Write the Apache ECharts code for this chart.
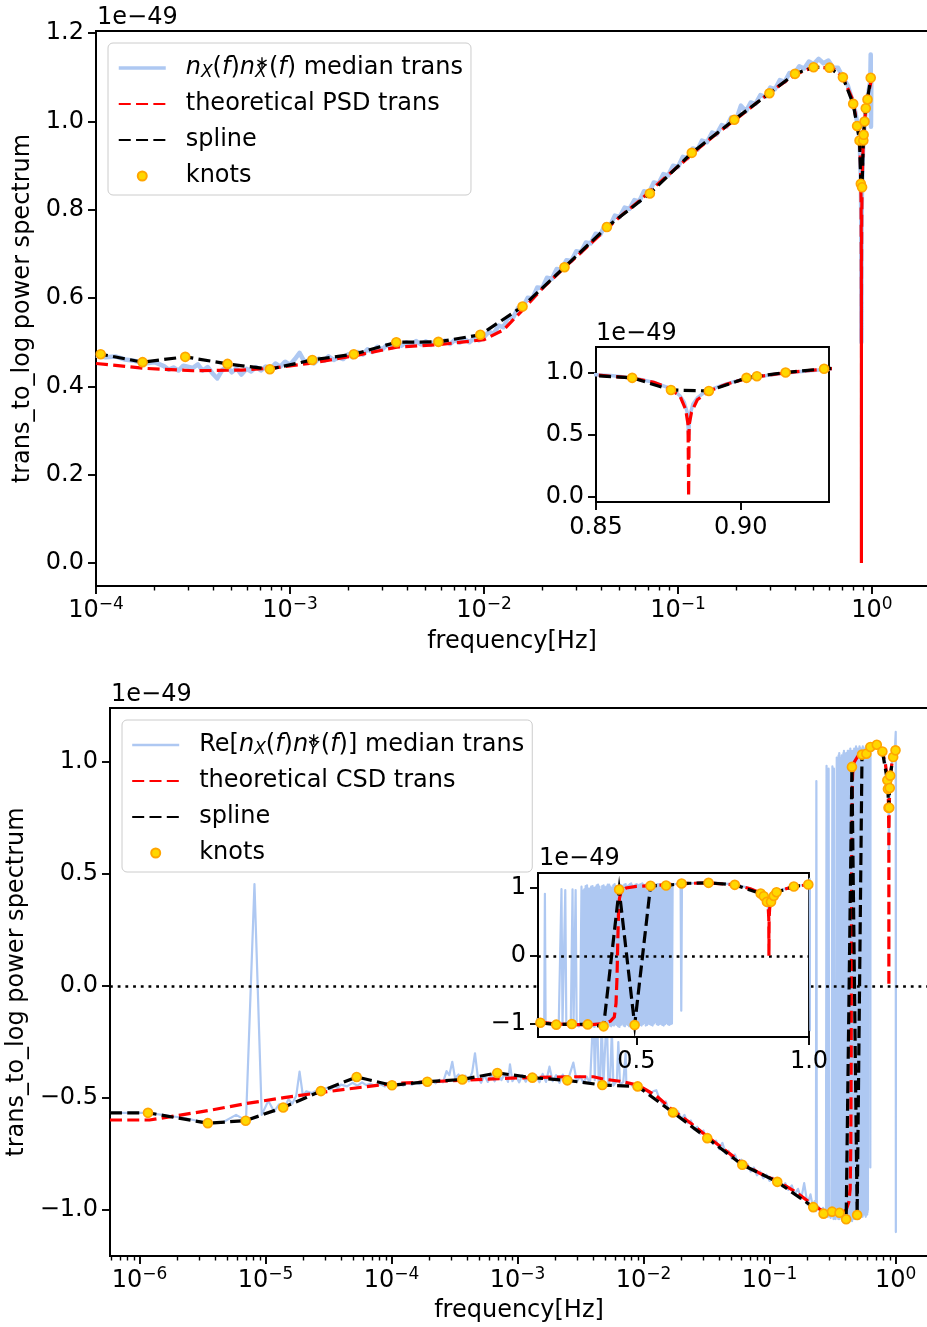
<!DOCTYPE html>
<html>
<head>
<meta charset="utf-8">
<script src="https://cdn.jsdelivr.net/npm/echarts@6/dist/echarts.min.js"></script>
<style>
html,body{margin:0;padding:0;background:#ffffff;}
#chart{width:927px;height:1327px;}
</style>
</head>
<body>
<div id="chart"></div>
<script>
// Values are in units of 1e-49 (shown as the offset text above each y axis).

// ---------- upper panel: auto spectrum ----------
const psdMedian = [
  [1.00e-4,0.470],[1.12e-4,0.466],[1.26e-4,0.468],[1.41e-4,0.461],[1.58e-4,0.458],[1.78e-4,0.452],[2.00e-4,0.455],[2.24e-4,0.446],
  [2.37e-4,0.438],[2.51e-4,0.443],[2.66e-4,0.436],[2.82e-4,0.447],[3.16e-4,0.442],[3.35e-4,0.450],[3.55e-4,0.436],[3.76e-4,0.444],
  [3.98e-4,0.430],[4.22e-4,0.418],[4.47e-4,0.437],[4.73e-4,0.445],[5.01e-4,0.432],[5.31e-4,0.441],[5.62e-4,0.427],[5.96e-4,0.440],
  [6.31e-4,0.434],[6.68e-4,0.444],[7.08e-4,0.436],[7.50e-4,0.445],[7.94e-4,0.440],[8.41e-4,0.452],[8.91e-4,0.445],[9.44e-4,0.456],
  [1.00e-3,0.449],[1.06e-3,0.462],[1.12e-3,0.476],[1.19e-3,0.455],[1.26e-3,0.460],[1.33e-3,0.452],[1.41e-3,0.463],[1.50e-3,0.458],
  [1.58e-3,0.468],[1.68e-3,0.460],[1.78e-3,0.466],[1.88e-3,0.462],[2.00e-3,0.473],[2.11e-3,0.466],[2.24e-3,0.478],[2.37e-3,0.472],
  [2.51e-3,0.484],[2.66e-3,0.478],[2.82e-3,0.490],[2.99e-3,0.484],[3.16e-3,0.494],[3.35e-3,0.488],[3.55e-3,0.498],[3.76e-3,0.492],
  [3.98e-3,0.500],[4.22e-3,0.494],[4.47e-3,0.503],[4.73e-3,0.495],[5.01e-3,0.502],[5.31e-3,0.494],[5.62e-3,0.503],[5.96e-3,0.497],
  [6.31e-3,0.504],[6.68e-3,0.496],[7.08e-3,0.505],[7.50e-3,0.499],[7.94e-3,0.507],[8.41e-3,0.500],[8.91e-3,0.509],[9.44e-3,0.504],
  [1.00e-2,0.512],[1.06e-2,0.524],[1.12e-2,0.519],[1.19e-2,0.538],[1.26e-2,0.534],[1.33e-2,0.556],[1.41e-2,0.555],[1.50e-2,0.578],
  [1.58e-2,0.578],[1.68e-2,0.601],[1.78e-2,0.600],[1.88e-2,0.624],[2.00e-2,0.623],[2.11e-2,0.646],[2.24e-2,0.644],[2.37e-2,0.666],
  [2.51e-2,0.664],[2.66e-2,0.686],[2.82e-2,0.684],[2.99e-2,0.706],[3.16e-2,0.704],[3.35e-2,0.726],[3.55e-2,0.724],[3.76e-2,0.746],
  [3.98e-2,0.744],[4.22e-2,0.767],[4.47e-2,0.764],[4.73e-2,0.787],[5.01e-2,0.784],[5.31e-2,0.805],[5.62e-2,0.802],[5.96e-2,0.822],
  [6.31e-2,0.819],[6.68e-2,0.842],[7.08e-2,0.839],[7.50e-2,0.862],[7.94e-2,0.859],[8.41e-2,0.881],[8.91e-2,0.878],[9.44e-2,0.900],
  [1.00e-1,0.897],[1.06e-1,0.920],[1.12e-1,0.917],[1.19e-1,0.939],[1.26e-1,0.936],[1.33e-1,0.957],[1.41e-1,0.953],[1.50e-1,0.975],
  [1.58e-1,0.971],[1.68e-1,0.992],[1.78e-1,0.988],[1.88e-1,1.009],[2.00e-1,1.005],[2.11e-1,1.036],[2.24e-1,1.023],[2.37e-1,1.043],
  [2.51e-1,1.040],[2.66e-1,1.060],[2.82e-1,1.056],[2.99e-1,1.077],[3.16e-1,1.073],[3.35e-1,1.094],[3.55e-1,1.090],[3.76e-1,1.110],
  [3.98e-1,1.108],[4.22e-1,1.125],[4.47e-1,1.120],[4.73e-1,1.136],[5.01e-1,1.130],[5.31e-1,1.142],[5.62e-1,1.132],[5.96e-1,1.138],
  [6.31e-1,1.122],[6.68e-1,1.122],[7.08e-1,1.100],[7.50e-1,1.082],[7.94e-1,1.046],[8.20e-1,1.022],[8.41e-1,0.995],
  [0.850,0.982],[0.855,0.975],[0.860,0.963],[0.865,0.946],[0.870,0.920],[0.874,0.886],[0.877,0.852],[0.879,0.812],
  [0.8805,0.760],[0.8815,0.680],[0.882,0.500],[0.8825,0.660],[0.8835,0.745],[0.885,0.795],[0.887,0.832],[0.890,0.866],
  [0.894,0.900],[0.898,0.928],[0.902,0.950],[0.906,0.966],[0.910,0.979],[0.915,0.994],[0.920,1.006],[0.925,1.017],
  [0.930,1.027],[0.940,1.044],[0.950,1.058],[0.960,1.068],[0.970,1.080],[0.980,1.092],[0.985,1.152],[0.988,0.988],
  [0.992,1.100],[0.996,1.104],[1.000,1.106]
];
const psdTheory = [
  [1.00e-4,0.452],[1.78e-4,0.441],[3.16e-4,0.4355],[5.62e-4,0.437],[7.94e-4,0.441],[1.26e-3,0.452],[2.24e-3,0.471],[3.55e-3,0.489],
  [5.96e-3,0.495],[1.00e-2,0.506],[1.26e-2,0.528],[1.58e-2,0.573],[2.00e-2,0.622],[2.51e-2,0.663],[3.16e-2,0.703],[3.98e-2,0.744],
  [5.01e-2,0.784],[6.31e-2,0.820],[7.94e-2,0.860],[1.00e-1,0.898],[1.26e-1,0.937],[1.58e-1,0.972],[2.00e-1,1.006],[2.51e-1,1.040],
  [3.16e-1,1.074],[3.98e-1,1.105],[5.01e-1,1.124],[6.31e-1,1.120],[7.08e-1,1.100],[7.94e-1,1.050],[0.850,0.980],[0.8625,0.955],
  [0.870,0.920],[0.875,0.875],[0.879,0.810],[0.881,0.700],[0.8818,0.580],[0.882,0.000],[0.8822,0.580],[0.883,0.680],
  [0.885,0.780],[0.889,0.850],[0.895,0.905],[0.902,0.952],[0.910,0.980],[0.9155,0.998],[0.930,1.030],[0.960,1.065],[1.000,1.100]
];
const psdKnots = [
  [1.057e-4,0.473],[1.738e-4,0.455],[2.884e-4,0.467],[4.764e-4,0.451],[7.87e-4,0.439],[1.303e-3,0.460],[2.133e-3,0.473],
  [3.532e-3,0.500],[5.82e-3,0.501],[9.57e-3,0.517],[1.58e-2,0.581],[2.60e-2,0.670],[4.30e-2,0.761],[7.16e-2,0.837],
  [0.1178,0.929],[0.195,1.004],[0.296,1.064],[0.401,1.108],[0.500,1.123],[0.604,1.122],[0.708,1.100],[0.800,1.040],
  [0.838,0.990],[0.8625,0.957],[0.8759,0.859],[0.889,0.851],[0.902,0.957],[0.9056,0.970],[0.9155,1.000],[0.9288,1.030],
  [0.948,1.050],[0.985,1.099]
];
const psdSpline = [[1.0e-4,0.475]].concat(psdKnots);

// ---------- lower panel: cross spectrum ----------
const csdMedian = [
  [5.82e-7,-0.566],[1.17e-6,-0.566],[2.33e-6,-0.590],[3.50e-6,-0.613],[4.66e-6,-0.606],[5.83e-6,-0.575],[6.99e-6,-0.600],
  [8.16e-6,0.455],[9.32e-6,-0.575],[1.05e-5,-0.512],[1.17e-5,-0.560],[1.28e-5,-0.528],[1.40e-5,-0.545],[1.52e-5,-0.505],
  [1.63e-5,-0.525],[1.75e-5,-0.490],[1.86e-5,-0.382],[1.98e-5,-0.492],[2.10e-5,-0.470],[2.33e-5,-0.478],[2.56e-5,-0.465],
  [2.80e-5,-0.470],[3.03e-5,-0.455],[3.26e-5,-0.462],[3.50e-5,-0.448],[3.73e-5,-0.455],[3.96e-5,-0.440],[4.43e-5,-0.448],
  [4.89e-5,-0.432],[5.36e-5,-0.445],[5.83e-5,-0.430],[6.29e-5,-0.442],[6.76e-5,-0.436],[7.46e-5,-0.446],[8.16e-5,-0.438],
  [8.86e-5,-0.448],[9.56e-5,-0.440],[1.05e-4,-0.447],[1.14e-4,-0.436],[1.24e-4,-0.445],[1.33e-4,-0.432],[1.45e-4,-0.441],
  [1.56e-4,-0.430],[1.68e-4,-0.438],[1.82e-4,-0.426],[1.96e-4,-0.436],[2.10e-4,-0.424],[2.24e-4,-0.434],[2.40e-4,-0.418],
  [2.56e-4,-0.430],[2.73e-4,-0.380],[2.87e-4,-0.398],[3.03e-4,-0.338],[3.19e-4,-0.412],[3.40e-4,-0.395],[3.62e-4,-0.430],
  [3.85e-4,-0.400],[4.10e-4,-0.425],[4.36e-4,-0.385],[4.59e-4,-0.300],[4.83e-4,-0.405],[5.13e-4,-0.432],[5.46e-4,-0.398],
  [5.80e-4,-0.428],[6.17e-4,-0.395],[6.57e-4,-0.425],[6.99e-4,-0.388],[7.43e-4,-0.420],[7.90e-4,-0.392],[8.39e-4,-0.428],
  [8.70e-4,-0.350],[9.10e-4,-0.425],[9.66e-4,-0.400],[1.03e-3,-0.430],[1.09e-3,-0.398],[1.16e-3,-0.427],[1.24e-3,-0.395],
  [1.32e-3,-0.425],[1.40e-3,-0.398],[1.49e-3,-0.430],[1.58e-3,-0.392],[1.68e-3,-0.428],[1.79e-3,-0.360],[1.90e-3,-0.425],
  [2.02e-3,-0.398],[2.15e-3,-0.432],[2.28e-3,-0.395],[2.43e-3,-0.430],[2.58e-3,-0.398],[2.77e-3,-0.342],[2.95e-3,-0.428],
  [3.13e-3,-0.402],[3.33e-3,-0.432],[3.54e-3,-0.405],[3.76e-3,-0.435],[4.00e-3,-0.100],[4.10e-3,-0.420],[4.25e-3,-0.050],
  [4.40e-3,-0.428],[4.52e-3,-0.442],[4.65e-3,-0.150],[4.80e-3,-0.435],[5.10e-3,-0.120],[5.25e-3,-0.440],[5.42e-3,-0.420],
  [5.60e-3,-0.200],[5.76e-3,-0.445],[6.13e-3,-0.422],[6.30e-3,-0.250],[6.50e-3,-0.440],[6.90e-3,-0.428],[7.20e-3,-0.300],
  [7.30e-3,-0.446],[7.80e-3,-0.432],[8.30e-3,-0.452],[8.97e-3,-0.445],[9.50e-3,-0.462],
  [1.00e-2,-0.470],[1.06e-2,-0.462],[1.12e-2,-0.488],[1.19e-2,-0.470],[1.26e-2,-0.465],[1.33e-2,-0.500],[1.41e-2,-0.525],
  [1.50e-2,-0.515],[1.58e-2,-0.555],[1.68e-2,-0.548],[1.78e-2,-0.572],[1.88e-2,-0.560],[2.00e-2,-0.595],[2.11e-2,-0.575],
  [2.24e-2,-0.612],[2.37e-2,-0.600],[2.51e-2,-0.640],[2.66e-2,-0.628],[2.82e-2,-0.660],[2.99e-2,-0.645],[3.16e-2,-0.686],
  [3.35e-2,-0.672],[3.55e-2,-0.705],[3.76e-2,-0.690],[3.98e-2,-0.728],[4.22e-2,-0.700],[4.47e-2,-0.748],[4.73e-2,-0.735],
  [5.01e-2,-0.770],[5.31e-2,-0.752],[5.62e-2,-0.792],[5.96e-2,-0.775],[6.31e-2,-0.812],[6.68e-2,-0.795],[7.08e-2,-0.828],
  [7.50e-2,-0.810],[7.94e-2,-0.845],[8.41e-2,-0.828],[8.91e-2,-0.858],[9.44e-2,-0.842],[1.00e-1,-0.870],[1.06e-1,-0.855],
  [1.12e-1,-0.882],[1.19e-1,-0.865],[1.26e-1,-0.895],[1.33e-1,-0.880],[1.41e-1,-0.910],[1.50e-1,-0.890],[1.58e-1,-0.930],
  [1.68e-1,-0.905],[1.78e-1,-0.950],[1.88e-1,-0.880],[2.00e-1,-0.975],[2.11e-1,-0.930],[2.22e-1,-0.995],[2.28e-1,-0.960],
  [2.33e-1,-1.005],[2.35e-1,0.915],[2.37e-1,-1.000],[2.45e-1,-0.985],[2.55e-1,-1.015],[2.65e-1,-0.990],[2.75e-1,-1.025],
  [2.80e-1,-1.000],[2.83e-1,0.983],[2.86e-1,-1.010],[2.90e-1,-1.030],[2.94e-1,0.970],[2.97e-1,-1.015],[3.05e-1,-1.035],
  [3.10e-1,-1.005],[3.15e-1,0.980],[3.18e-1,-1.020],[3.22e-1,-1.040],[3.24e-1,0.970],[3.27e-1,-1.020],[3.33e-1,-1.040],
  [3.37e-1,-1.010],
  [0.341,1.02],[0.343,-1.03],[0.345,0.96],[0.347,-1.01],[0.349,0.98],[0.351,-1.04],[0.353,1.03],[0.355,-1.01],
  [0.357,1.04],[0.359,-1.04],[0.361,0.99],[0.363,-1.02],[0.365,0.99],[0.367,-1.03],[0.369,1.02],[0.371,-1.02],
  [0.373,1.03],[0.375,-1.04],[0.377,1.00],[0.379,-1.05],[0.381,1.01],[0.383,-1.02],[0.385,1.04],[0.387,-1.00],
  [0.389,1.05],[0.391,-1.03],[0.393,1.02],[0.395,-1.04],[0.397,0.97],[0.399,-1.01],[0.401,1.03],[0.403,-1.02],
  [0.405,1.04],[0.407,-1.03],[0.409,1.01],[0.411,-1.05],[0.413,1.02],[0.415,-1.02],[0.417,1.05],[0.419,-1.01],
  [0.421,1.05],[0.423,-1.03],[0.425,1.02],[0.427,-1.04],[0.429,1.00],[0.431,-1.02],[0.433,1.04],[0.435,-1.03],
  [0.437,1.06],[0.439,-1.01],[0.441,1.03],[0.443,-1.02],[0.445,1.03],[0.447,-1.04],[0.449,1.02],[0.451,-1.05],
  [0.453,1.05],[0.455,-1.02],[0.457,1.04],[0.459,-1.00],[0.461,1.02],[0.463,-1.03],[0.465,1.05],[0.467,-1.04],
  [0.469,1.06],[0.471,-1.01],[0.473,1.03],[0.475,-1.02],[0.477,1.04],[0.479,-1.04],[0.481,1.06],[0.483,-1.03],
  [0.485,1.07],[0.487,-1.00],[0.489,1.04],[0.491,-1.01],[0.493,1.03],[0.495,-1.03],[0.497,1.05],[0.499,-1.04],
  [0.501,1.06],[0.503,-1.02],[0.505,1.04],[0.507,-1.00],[0.509,1.05],[0.511,-1.02],[0.513,1.06],[0.515,-1.03],
  [0.517,1.07],[0.519,-1.01],[0.521,1.05],[0.523,-0.99],[0.525,1.04],[0.527,-1.03],[0.529,1.06],[0.531,-1.02],
  [0.533,1.06],[0.535,-1.00],[0.537,1.05],[0.539,-1.01],[0.541,1.05],[0.543,-1.02],[0.545,1.06],[0.547,-1.03],
  [0.549,1.07],[0.551,-1.00],[0.553,1.05],[0.555,-0.98],[0.557,1.05],[0.559,-1.01],[0.561,1.06],[0.563,-1.02],
  [0.565,1.06],[0.567,-1.01],[0.569,1.05],[0.571,-1.00],[0.573,1.05],[0.575,-1.02],[0.577,1.06],[0.579,-1.03],
  [0.581,1.07],[0.583,-1.01],[0.585,1.05],[0.587,-0.99],[0.589,1.06],[0.591,-1.01],[0.593,1.05],[0.595,-1.02],
  [0.597,1.05],[0.599,-1.01],[0.601,1.06],[0.603,-1.00],[0.605,1.06],[0.609,1.05],
  [0.620,1.06],[0.628,1.07],[0.630,-0.81],[0.632,1.06],[0.645,1.075],[0.660,1.07],[0.680,1.082],[0.700,1.078],
  [0.720,1.085],[0.750,1.07],[0.785,1.05],[0.820,1.01],[0.850,0.955],[0.860,0.925],[0.870,0.88],[0.876,0.83],
  [0.880,0.76],[0.8825,0.66],[0.884,0.58],[0.8855,0.66],[0.888,0.76],[0.892,0.82],[0.898,0.88],[0.906,0.935],
  [0.920,0.975],[0.940,1.005],[0.956,1.022],[0.970,1.035],[0.985,1.045],[1.000,1.052],[1.002,1.134],[1.004,-1.098],
  [1.006,1.06]
];
const csdTheory = [
  [5.82e-7,-0.598],[1.2e-6,-0.598],[3.5e-6,-0.556],[7.1e-6,-0.524],[1.4e-5,-0.498],[2.7e-5,-0.476],[5.2e-5,-0.455],
  [1.02e-4,-0.435],[3.9e-4,-0.420],[1.0e-3,-0.410],[2.5e-3,-0.405],[4.0e-3,-0.405],[4.76e-3,-0.415],[6.5e-3,-0.425],
  [8.97e-3,-0.442],[1.26e-2,-0.490],[1.71e-2,-0.555],[2.4e-2,-0.615],[3.2e-2,-0.672],[4.5e-2,-0.735],[6.07e-2,-0.792],
  [8.5e-2,-0.838],[0.115,-0.870],[0.160,-0.918],[0.222,-0.978],[0.270,-1.008],[0.320,-1.015],[0.370,-1.015],[0.405,-1.000],
  [0.425,-0.965],[0.436,-0.905],[0.441,-0.700],[0.444,-0.300],[0.446,0.200],[0.448,0.600],[0.451,0.850],[0.456,0.950],
  [0.470,1.000],[0.500,1.025],[0.541,1.035],[0.600,1.055],[0.660,1.070],[0.709,1.075],[0.785,1.047],[0.830,0.990],
  [0.860,0.925],[0.872,0.870],[0.878,0.800],[0.882,0.700],[0.8835,0.550],[0.884,0.000],[0.8845,0.550],[0.886,0.700],
  [0.890,0.800],[0.898,0.884],[0.906,0.935],[0.930,0.985],[0.956,1.020],[1.000,1.052]
];
const csdKnots = [
  [1.166e-6,-0.566],[3.48e-6,-0.612],[6.95e-6,-0.601],[1.38e-5,-0.542],[2.75e-5,-0.469],[5.28e-5,-0.406],[1.007e-4,-0.443],
  [1.92e-4,-0.427],[3.64e-4,-0.417],[6.9e-4,-0.388],[1.31e-3,-0.409],[2.48e-3,-0.421],[4.70e-3,-0.442],[8.97e-3,-0.448],
  [1.71e-2,-0.564],[3.20e-2,-0.679],[6.07e-2,-0.798],[0.115,-0.874],[0.222,-0.987],[0.268,-1.016],[0.313,-1.007],
  [0.359,-1.012],[0.405,-1.041],[0.450,0.978],[0.495,-1.022],[0.541,1.033],[0.586,1.037],[0.631,1.067],[0.709,1.077],
  [0.785,1.047],[0.860,0.919],[0.869,0.880],[0.878,0.796],[0.890,0.796],[0.898,0.884],[0.906,0.939],[0.956,1.022],[0.998,1.052]
];
const csdSpline = [[5.82e-7,-0.566]].concat(csdKnots);

// ---------- ticks ----------
const psdFreqTicks = [1e-4, 1e-3, 1e-2, 1e-1, 1];
const csdFreqTicks = [1e-6, 1e-5, 1e-4, 1e-3, 1e-2, 1e-1, 1];
const psdValueTicks = [0, 0.2, 0.4, 0.6, 0.8, 1.0, 1.2];
const csdValueTicks = [-1.0, -0.5, 0, 0.5, 1.0];
const psdZoomFreqTicks = [0.85, 0.90];
const psdZoomValueTicks = [0, 0.5, 1.0];
const csdZoomFreqTicks = [0.5, 1.0];
const csdZoomValueTicks = [-1, 0, 1];
const MINOR_MANTISSAS = [2, 3, 4, 5, 6, 7, 8, 9];

const FONT = 'DejaVu Sans';
const FS = 24;
const BLACK = '#000000';
const MEDIAN_BLUE = '#aec8f2';
const THEORY_RED = '#ff0000';
const KNOT_FILL = '#ffd700';
const KNOT_EDGE = '#ffa500';
const DASH = [12, 5.3];

function minorTicks(lo, hi) {
  const out = [];
  for (let e = -7; e <= 0; e++) {
    for (const m of MINOR_MANTISSAS) {
      const v = m * Math.pow(10, e);
      if (v > lo && v < hi) out.push(v);
    }
  }
  return out;
}
function fmtFixed(d) {
  return v => (v < -1e-9 ? '\u2212' : '') + Math.abs(v).toFixed(d);
}
function fmtInt(v) {
  return (v < -1e-9 ? '\u2212' : '') + Math.round(Math.abs(v));
}
function fmtPow(v) {
  const e = Math.round(Math.log10(v));
  return '{b|10}{s|' + (e < 0 ? '\u2212' + (-e) : String(e)) + '}';
}
const powRich = {
  b: { fontFamily: FONT, fontSize: FS, lineHeight: 30, color: BLACK },
  s: { fontFamily: FONT, fontSize: 17, lineHeight: 12, verticalAlign: 'top', color: BLACK }
};
const legendRich = {
  n: { fontFamily: FONT, fontSize: FS, lineHeight: 26, color: BLACK },
  i: { fontFamily: FONT, fontSize: FS, lineHeight: 26, fontStyle: 'italic', color: BLACK },
  sub: { fontFamily: FONT, fontSize: 17, lineHeight: 8, fontStyle: 'italic', verticalAlign: 'bottom', color: BLACK },
  sup: { fontFamily: FONT, fontSize: 17, lineHeight: 2, verticalAlign: 'top', color: BLACK, padding: [0, 0, 0, -12] }
};
const legendText = {
  'PSD median trans': '{i|n}{sub|X}{n|(}{i|f}{n|)}{i|n}{sub|X}{sup|\u2217}{n|(}{i|f}{n|) median trans}',
  'CSD median trans': '{n|Re[}{i|n}{sub|X}{n|(}{i|f}{n|)}{i|n}{sub|Y}{sup|\u2217}{n|(}{i|f}{n|)] median trans}'
};

const PSD_XMIN = 1e-4, PSD_XMAX = 1.944;
const CSD_XMIN = 5.824e-7, CSD_XMAX = 1.807;

const labelStyle = { color: BLACK, fontFamily: FONT, fontSize: FS };
const spine = { color: BLACK, width: 1.9 };

function logXAxis(gridIndex, min, max, ticks, nameGap) {
  return {
    type: 'log', logBase: 10, gridIndex, min, max,
    axisLine: { show: true, onZero: false, lineStyle: spine },
    axisTick: { show: true, customValues: ticks, length: 8, lineStyle: spine },
    axisLabel: Object.assign({ show: true, customValues: ticks, formatter: fmtPow, margin: 10, rich: powRich }, labelStyle),
    splitLine: { show: false }, minorTick: { show: false },
    name: 'frequency[Hz]', nameLocation: 'middle', nameGap, nameTextStyle: labelStyle
  };
}
function minorXAxis(gridIndex, min, max) {
  return {
    type: 'log', logBase: 10, gridIndex, min, max,
    axisLine: { show: false }, axisLabel: { show: false }, splitLine: { show: false },
    axisTick: { show: true, customValues: minorTicks(min, max), length: 4.5, lineStyle: { color: BLACK, width: 1.4 } }
  };
}
function linXAxis(gridIndex, min, max, ticks, fmt, z, margin) {
  return {
    type: 'value', gridIndex, min, max, z,
    axisLine: { show: true, onZero: false, lineStyle: spine },
    axisTick: { show: true, customValues: ticks, length: 8, lineStyle: spine },
    axisLabel: Object.assign({ show: true, customValues: ticks, formatter: fmt, margin }, labelStyle),
    splitLine: { show: false }
  };
}
function valueYAxis(gridIndex, min, max, ticks, fmt, z, title, gap) {
  const ax = {
    type: 'value', gridIndex, min, max, z,
    axisLine: { show: true, onZero: false, lineStyle: spine },
    axisTick: { show: true, customValues: ticks, length: 8, lineStyle: spine },
    axisLabel: Object.assign({ show: true, customValues: ticks, formatter: fmt, margin: 12 }, labelStyle),
    splitLine: { show: false }
  };
  if (title) {
    Object.assign(ax, { name: title, nameLocation: 'middle', nameRotate: 90, nameGap: gap, nameTextStyle: labelStyle });
  }
  return ax;
}
function hiddenYAxis(gridIndex) {
  return { type: 'value', gridIndex, min: 0, max: 1, show: false };
}

function lineSeries(name, data, xi, yi, color, width, type, z, extra) {
  return Object.assign({
    type: 'line', name, data, xAxisIndex: xi, yAxisIndex: yi,
    symbol: 'none', showSymbol: false, z, silent: true, clip: true, animation: false,
    lineStyle: { color, width, type, cap: 'butt', join: type === 'solid' ? 'round' : 'miter' },
    itemStyle: { color }
  }, extra || {});
}
function knotSeries(name, data, xi, yi, z) {
  return {
    type: 'scatter', name, data, xAxisIndex: xi, yAxisIndex: yi, symbol: 'circle', symbolSize: 9, z,
    silent: true, clip: true, animation: false,
    itemStyle: { color: KNOT_FILL, borderColor: KNOT_EDGE, borderWidth: 1.6, opacity: 1 }
  };
}
function zeroLine(z) {
  return {
    silent: true, symbol: 'none', z, animation: false, label: { show: false },
    lineStyle: { color: BLACK, width: 2.5, type: [2.8, 4.9] },
    data: [{ yAxis: 0 }]
  };
}
// line-only legend entries: hide the marker drawn in the middle of the line icon
function lineEntry(name, width) {
  const entry = { name, itemStyle: { opacity: 0 } };
  if (width) entry.lineStyle = { width };
  return entry;
}
function legendCfg(left, top, names, medianWidth) {
  return {
    left, top, orient: 'vertical', selectedMode: false,
    itemWidth: 47, itemHeight: 9, itemGap: 10, padding: [12, 8, 6, 9],
    backgroundColor: 'rgba(255,255,255,0.8)', borderColor: '#cccccc', borderWidth: 1, borderRadius: 5,
    data: [lineEntry(names[0], medianWidth), lineEntry(names[1]), lineEntry(names[2]), names[3]],
    formatter: name => legendText[name] || '{n|' + name + '}',
    textStyle: { color: BLACK, fontFamily: FONT, fontSize: FS, lineHeight: 26, padding: [0, 0, 0, 15], rich: legendRich }
  };
}
function offsetText(x, y) {
  return { type: 'text', x, y, z: 20, style: { text: '1e\u221249', font: FS + 'px "DejaVu Sans"', fill: BLACK, verticalAlign: 'middle' } };
}

const gridBox = { show: true, borderColor: BLACK, borderWidth: 1.9, containLabel: false, outerBoundsMode: 'none' };

const option = {
  animation: false,
  backgroundColor: '#ffffff',
  textStyle: { fontFamily: FONT },
  grid: [
    Object.assign({ left: 96, top: 31, width: 832, height: 555, backgroundColor: 'transparent' }, gridBox),
    { left: 96, top: 31, width: 832, height: 555, show: false, containLabel: false, outerBoundsMode: 'none' },
    Object.assign({ left: 596, top: 347, width: 233, height: 155, backgroundColor: '#ffffff', z: 10 }, gridBox),
    Object.assign({ left: 110, top: 708, width: 818, height: 548, backgroundColor: 'transparent' }, gridBox),
    { left: 110, top: 708, width: 818, height: 548, show: false, containLabel: false, outerBoundsMode: 'none' },
    Object.assign({ left: 538, top: 873, width: 271, height: 164, backgroundColor: '#ffffff', z: 10 }, gridBox)
  ],
  xAxis: [
    logXAxis(0, PSD_XMIN, PSD_XMAX, psdFreqTicks, 44),
    minorXAxis(1, PSD_XMIN, PSD_XMAX),
    linXAxis(2, 0.85, 0.9305, psdZoomFreqTicks, fmtFixed(2), 11, 14),
    logXAxis(3, CSD_XMIN, CSD_XMAX, csdFreqTicks, 43),
    minorXAxis(4, CSD_XMIN, CSD_XMAX),
    linXAxis(5, 0.215, 1.0, csdZoomFreqTicks, fmtFixed(1), 11, 13)
  ],
  yAxis: [
    valueYAxis(0, -0.052, 1.205, psdValueTicks, fmtFixed(1), 0, 'trans_to_log power spectrum', 59),
    hiddenYAxis(1),
    valueYAxis(2, -0.046, 1.206, psdZoomValueTicks, fmtFixed(1), 11),
    valueYAxis(3, -1.205, 1.241, csdValueTicks, fmtFixed(1), 0, 'trans_to_log power spectrum', 75),
    hiddenYAxis(4),
    valueYAxis(5, -1.198, 1.222, csdZoomValueTicks, fmtInt, 11)
  ],
  legend: [
    legendCfg(108, 43, ['PSD median trans', 'theoretical PSD trans', 'spline', 'knots'], 3.5),
    legendCfg(122, 720, ['CSD median trans', 'theoretical CSD trans', 'spline', 'knots'], 2.4)
  ],
  graphic: [
    offsetText(97, 18),
    offsetText(596, 334),
    offsetText(111, 695),
    offsetText(539, 859)
  ],
  series: [
    // upper panel
    lineSeries('PSD median trans', psdMedian, 0, 0, MEDIAN_BLUE, 4.5, 'solid', 2),
    lineSeries('theoretical PSD trans', psdTheory, 0, 0, THEORY_RED, 3.2, DASH, 3),
    lineSeries('spline', psdSpline, 0, 0, BLACK, 3.2, DASH, 4),
    knotSeries('knots', psdKnots, 0, 0, 5),
    // upper detail view
    lineSeries('PSD median detail', psdMedian, 2, 2, MEDIAN_BLUE, 3.5, 'solid', 12),
    lineSeries('PSD theory detail', psdTheory, 2, 2, THEORY_RED, 3.2, DASH, 13),
    lineSeries('PSD spline detail', psdSpline, 2, 2, BLACK, 3.2, DASH, 14),
    knotSeries('PSD knots detail', psdKnots, 2, 2, 15),
    // lower panel
    lineSeries('CSD median trans', csdMedian, 3, 3, MEDIAN_BLUE, 2.2, 'solid', 2),
    lineSeries('theoretical CSD trans', csdTheory, 3, 3, THEORY_RED, 3.2, DASH, 3, { markLine: zeroLine(3) }),
    lineSeries('spline', csdSpline, 3, 3, BLACK, 3.2, DASH, 4),
    knotSeries('knots', csdKnots, 3, 3, 5),
    // lower detail view
    lineSeries('CSD median detail', csdMedian, 5, 5, MEDIAN_BLUE, 2.2, 'solid', 12),
    lineSeries('CSD theory detail', csdTheory, 5, 5, THEORY_RED, 3.2, DASH, 13, { markLine: zeroLine(13) }),
    lineSeries('CSD spline detail', csdSpline, 5, 5, BLACK, 3.2, DASH, 14),
    knotSeries('CSD knots detail', csdKnots, 5, 5, 15)
  ]
};

const chart = echarts.init(document.getElementById('chart'), null, { renderer: 'canvas', width: 927, height: 1327 });
chart.setOption(option);
</script>
</body>
</html>
